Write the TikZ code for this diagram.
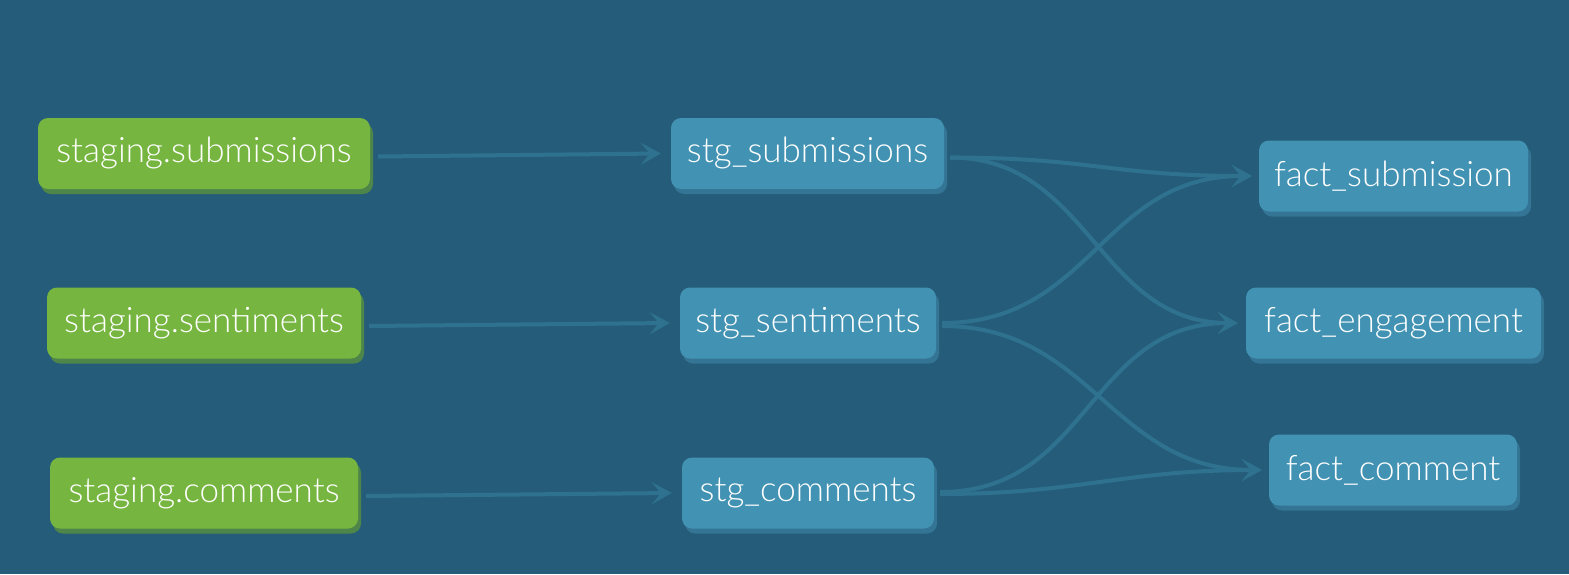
\documentclass[tikz,border=0pt]{standalone}
\usepackage{fontspec}
\setmainfont{Lato Light}
\usetikzlibrary{arrows.meta,calc,shadows}
\definecolor{bg}{RGB}{37,92,121}
\definecolor{gfill}{RGB}{118,182,64}
\definecolor{gshadow}{RGB}{78,134,74}
\definecolor{bfill}{RGB}{66,146,179}
\definecolor{bshadow}{RGB}{52,116,148}
\definecolor{edgec}{RGB}{47,114,144}
\tikzset{
  base/.style={rounded corners=10pt, minimum height=71pt, inner sep=0pt, text=white,
     font=\fontsize{35}{40}\selectfont},
  srcnode/.style={base, fill=gfill, drop shadow={shadow xshift=3pt, shadow yshift=-5pt, fill=gshadow, opacity=1}},
  stgnode/.style={base, fill=bfill, drop shadow={shadow xshift=3pt, shadow yshift=-5pt, fill=bshadow, opacity=1}},
  link/.style={draw=edgec, line width=4pt, -{Stealth[length=20pt,width=22pt,inset=9pt]}}
}
\begin{document}
\begin{tikzpicture}[x=1pt,y=-1pt]
\fill[bg] (0,0) rectangle (1569,574);
\useasboundingbox (0,0) rectangle (1569,574);
\node[srcnode, minimum width=332pt] (A1) at (204,153.5) {staging.submissions};
\node[srcnode, minimum width=314pt] (A2) at (204,323) {staging.sentiments};
\node[srcnode, minimum width=308pt] (A3) at (204,493) {staging.comments};
\node[stgnode, minimum width=273pt] (B1) at (807.5,153.5) {stg\_submissions};
\node[stgnode, minimum width=256pt] (B2) at (808,323) {stg\_sentiments};
\node[stgnode, minimum width=252pt] (B3) at (808,493) {stg\_comments};
\node[stgnode, minimum width=269pt] (C1) at (1393.5,176) {fact\_submission};
\node[stgnode, minimum width=295pt] (C2) at (1393.5,323) {fact\_engagement};
\node[stgnode, minimum width=248pt] (C3) at (1393,470) {fact\_comment};
% straight links
\draw[link] ($(A1.east)+(8,3)$) -- ($(B1.west)+(-10,0)$);
\draw[link] ($(A2.east)+(8,3)$) -- ($(B2.west)+(-10,0)$);
\draw[link] ($(A3.east)+(8,3)$) -- ($(B3.west)+(-10,0)$);
% curved links
\draw[link] ($(B1.east)+(6,4)$) .. controls +(140,0) and +(-140,0) .. ($(C1.west)+(-7,0)$);
\draw[link] ($(B1.east)+(6,4)$) .. controls +(140,0) and +(-140,0) .. ($(C2.west)+(-8,0)$);
\draw[link] ($(B2.east)+(6,0)$) .. controls +(150,0) and +(-150,0) .. ($(C1.west)+(-7,0)$);
\draw[link] ($(B2.east)+(6,3)$) .. controls +(150,0) and +(-150,0) .. ($(C3.west)+(-7,0)$);
\draw[link] ($(B3.east)+(6,-1)$) .. controls +(150,0) and +(-150,0) .. ($(C2.west)+(-8,0)$);
\draw[link] ($(B3.east)+(6,1)$) .. controls +(140,0) and +(-140,0) .. ($(C3.west)+(-7,0)$);
\end{tikzpicture}
\end{document}
